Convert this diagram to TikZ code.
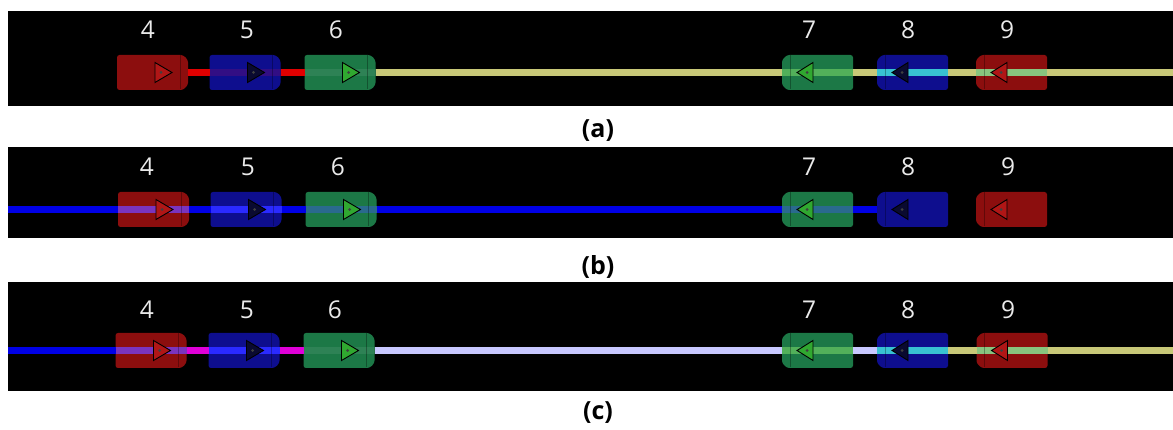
\documentclass[tikz,border=0pt]{standalone}
\usepackage{fontspec}
\setmainfont{Open Sans}
\definecolor{boxred}{HTML}{8C0E0E}
\definecolor{boxblue}{HTML}{0E0E8E}
\definecolor{boxgreen}{HTML}{1C7846}
\definecolor{lnred}{HTML}{E00000}
\definecolor{lnyellow}{HTML}{C8C878}
\definecolor{lnblue}{HTML}{0000E6}
\definecolor{lnmag}{HTML}{E000D8}
\definecolor{lnlav}{HTML}{C8C8FF}
\definecolor{numwhite}{HTML}{EAEAEA}
\definecolor{ovpurple}{HTML}{7A34BE}
\definecolor{ovbright}{HTML}{2A2AFF}
\definecolor{ovteal}{HTML}{2A6A8E}
\definecolor{ovgreen}{HTML}{52B05A}
\definecolor{ovcyan}{HTML}{38C2D2}
\definecolor{ovlgreen}{HTML}{88C47E}
\definecolor{ovfaintp}{HTML}{4A0E7E}
\definecolor{ovfaintg}{HTML}{3A8A60}
\definecolor{trired}{HTML}{B01616}
\definecolor{trigreen}{HTML}{30A830}
\definecolor{tridark}{HTML}{0A0A30}
\newcommand\bodyR[2]{\fill[#2, rounded corners=2.5pt] (#1.north west) -- ([xshift=-5pt]#1.north east) -- ([yshift=-5pt]#1.north east) -- ([yshift=5pt]#1.south east) -- ([xshift=-5pt]#1.south east) -- (#1.south west) -- cycle;}
\newcommand\bodyL[2]{\fill[#2, rounded corners=2.5pt] (#1.north east) -- ([xshift=5pt]#1.north west) -- ([yshift=-5pt]#1.north west) -- ([yshift=5pt]#1.south west) -- ([xshift=5pt]#1.south west) -- (#1.south east) -- cycle;}
\newcommand\triR[2]{\filldraw[tri,fill=#2] ([xshift=-33pt,yshift=10pt]#1.east) -- ([xshift=-16pt]#1.east) -- ([xshift=-33pt,yshift=-10pt]#1.east) -- cycle;
  \fill[black!75] ([xshift=-27pt]#1.east) circle (1.5pt);}
\newcommand\triL[2]{\filldraw[tri,fill=#2] ([xshift=31pt,yshift=10pt]#1.west) -- ([xshift=15pt]#1.west) -- ([xshift=31pt,yshift=-10pt]#1.west) -- cycle;
  \fill[black!75] ([xshift=25pt]#1.west) circle (1.5pt);}
\newcommand\capLineR[1]{\draw[endline] ([xshift=-8pt,yshift=17pt]#1.east) -- ([xshift=-8pt,yshift=-17pt]#1.east);}
\newcommand\capLineL[1]{\draw[endline] ([xshift=8pt,yshift=17pt]#1.west) -- ([xshift=8pt,yshift=-17pt]#1.west);}
\begin{document}
\begin{tikzpicture}[x=1pt,y=-1pt,
  panel/.style={fill=black},
  bx/.style={rectangle, inner sep=0pt, outer sep=0pt, minimum width=71pt, minimum height=35pt, draw=none},
  num/.style={text=numwhite, font=\fontsize{24.5}{28}\selectfont, inner sep=0pt},
  figlabel/.style={font=\bfseries\fontsize{25}{29}\selectfont, inner sep=0pt},
  ln/.style={line width=7.5pt},
  tri/.style={draw=black, line width=0.9pt, line join=miter},
  endline/.style={draw=black, opacity=0.3, line width=0.8pt},
]
\useasboundingbox (0,0) rectangle (1173,430);
\fill[white] (0,0) rectangle (1173,430);

% ---------------- panel (a)
\fill[panel] (8,11) rectangle (1173,106);
\node[bx] (a4) at (152.5,72.5) {};
\node[bx] (a5) at (245,72.5) {};
\node[bx] (a6) at (340,72.5) {};
\node[bx] (a7) at (817.5,72.5) {};
\node[bx] (a8) at (912.5,72.5) {};
\node[bx] (a9) at (1011.5,72.5) {};
\bodyR{a4}{boxred}\bodyR{a5}{boxblue}\bodyR{a6}{boxgreen}
\bodyL{a7}{boxgreen}\bodyL{a8}{boxblue}\bodyL{a9}{boxred}
\coordinate (aR) at (1173,72.5);
\draw[ln, lnred] (a4.east) -- (a5.west);
\draw[ln, lnred] (a5.east) -- (a6.west);
\draw[ln, lnyellow] (a6.east) -- (a7.west);
\draw[ln, lnyellow] (a7.east) -- (a8.west);
\draw[ln, lnyellow] (a8.east) -- (a9.west);
\draw[ln, lnyellow] (a9.east) -- (aR);
\draw[ln, ovfaintp, opacity=0.6] (a5.west) -- (a5.east);
\draw[ln, ovfaintg, opacity=0.6] (a6.west) -- (a6.east);
\draw[ln, ovgreen] (a7.west) -- (a7.east);
\draw[ln, ovcyan] (a8.west) -- (a8.east);
\draw[ln, ovlgreen] (a9.west) -- (a9.east);
\capLineR{a4}\capLineR{a5}\capLineR{a6}\capLineL{a7}\capLineL{a8}\capLineL{a9}
\triR{a4}{trired}\triR{a5}{tridark}\triR{a6}{trigreen}
\triL{a7}{trigreen}\triL{a8}{tridark}\triL{a9}{trired}
\node[num] (la4) at (148,30) {4};
\node[num] (la5) at (247,30) {5};
\node[num] (la6) at (336,30) {6};
\node[num] (la7) at (809,30) {7};
\node[num] (la8) at (908,30) {8};
\node[num] (la9) at (1007,30) {9};
\node[figlabel] (capa) at (598,131) {(a)};

% ---------------- panel (b)
\fill[panel] (8,147) rectangle (1173,238);
\node[bx] (b4) at (153.5,209.5) {};
\node[bx] (b5) at (246,209.5) {};
\node[bx] (b6) at (341,209.5) {};
\node[bx] (b7) at (817.5,209.5) {};
\node[bx] (b8) at (912.5,209.5) {};
\node[bx] (b9) at (1011.5,209.5) {};
\bodyR{b4}{boxred}\bodyR{b5}{boxblue}\bodyR{b6}{boxgreen}
\bodyL{b7}{boxgreen}\bodyL{b8}{boxblue}\bodyL{b9}{boxred}
\coordinate (bL) at (8,209.5);
\draw[ln, lnblue] (bL) -- (b4.west);
\draw[ln, lnblue] (b4.east) -- (b5.west);
\draw[ln, lnblue] (b5.east) -- (b6.west);
\draw[ln, lnblue] (b6.east) -- (b7.west);
\draw[ln, lnblue] (b7.east) -- (b8.west);
\draw[ln, ovpurple] (b4.west) -- (b4.east);
\draw[ln, ovbright] (b5.west) -- (b5.east);
\draw[ln, ovteal] (b6.west) -- (b6.east);
\draw[ln, ovteal] (b7.west) -- (b7.east);
\capLineR{b4}\capLineR{b5}\capLineR{b6}\capLineL{b7}\capLineL{b8}\capLineL{b9}
\triR{b4}{trired}\triR{b5}{tridark}\triR{b6}{trigreen}
\triL{b7}{trigreen}\triL{b8}{tridark}\triL{b9}{trired}
\node[num] (lb4) at (147,167) {4};
\node[num] (lb5) at (248,167) {5};
\node[num] (lb6) at (338,167) {6};
\node[num] (lb7) at (809,167) {7};
\node[num] (lb8) at (908,167) {8};
\node[num] (lb9) at (1008,167) {9};
\node[figlabel] (capb) at (598,267) {(b)};

% ---------------- panel (c)
\fill[panel] (8,282) rectangle (1173,391);
\node[bx] (c4) at (151,350.5) {};
\node[bx] (c5) at (244,350.5) {};
\node[bx] (c6) at (339,350.5) {};
\node[bx] (c7) at (817.5,350.5) {};
\node[bx] (c8) at (912.5,350.5) {};
\node[bx] (c9) at (1012,350.5) {};
\bodyR{c4}{boxred}\bodyR{c5}{boxblue}\bodyR{c6}{boxgreen}
\bodyL{c7}{boxgreen}\bodyL{c8}{boxblue}\bodyL{c9}{boxred}
\coordinate (cL) at (8,350.5);
\coordinate (cR) at (1173,350.5);
\draw[ln, lnblue] (cL) -- (c4.west);
\draw[ln, lnmag] (c4.east) -- (c5.west);
\draw[ln, lnmag] (c5.east) -- (c6.west);
\draw[ln, lnlav] (c6.east) -- (c7.west);
\draw[ln, lnlav] (c7.east) -- (c8.west);
\draw[ln, lnyellow] (c8.east) -- (c9.west);
\draw[ln, lnyellow] (c9.east) -- (cR);
\draw[ln, ovpurple] (c4.west) -- (c4.east);
\draw[ln, ovbright] (c5.west) -- (c5.east);
\draw[ln, ovfaintg, opacity=0.6] (c6.west) -- (c6.east);
\draw[ln, ovgreen] (c7.west) -- (c7.east);
\draw[ln, ovcyan] (c8.west) -- (c8.east);
\draw[ln, ovlgreen] (c9.west) -- (c9.east);
\capLineR{c4}\capLineR{c5}\capLineR{c6}\capLineL{c7}\capLineL{c8}\capLineL{c9}
\triR{c4}{trired}\triR{c5}{tridark}\triR{c6}{trigreen}
\triL{c7}{trigreen}\triL{c8}{tridark}\triL{c9}{trired}
\node[num] (lc4) at (147,310) {4};
\node[num] (lc5) at (247,310) {5};
\node[num] (lc6) at (335,310) {6};
\node[num] (lc7) at (809,310) {7};
\node[num] (lc8) at (908,310) {8};
\node[num] (lc9) at (1008,310) {9};
\node[figlabel] (capc) at (598,413) {(c)};
\end{tikzpicture}
\end{document}
